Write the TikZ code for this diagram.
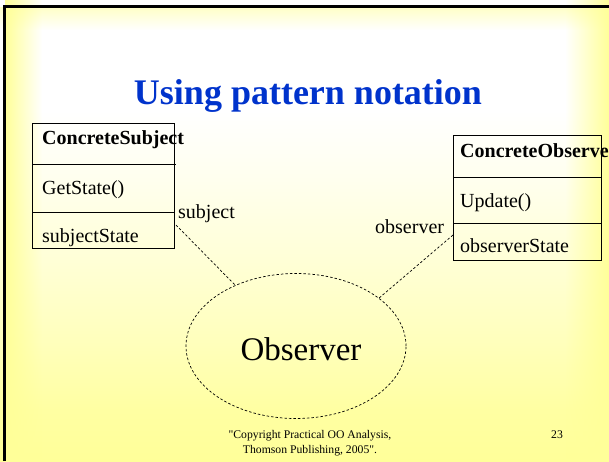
\documentclass[tikz,border=0pt]{standalone}
\usepackage{fontspec}
\setmainfont{Liberation Serif}[Ligatures=TeXOff]
\usetikzlibrary{shapes.geometric,fadings}
\definecolor{bgY}{RGB}{255,255,153}
\definecolor{bgA}{RGB}{255,255,162}
\definecolor{bgB}{RGB}{255,255,188}
\definecolor{bgC}{RGB}{255,255,215}
\definecolor{bgD}{RGB}{255,255,238}
\definecolor{titleblue}{RGB}{0,51,204}
\pgfdeclareverticalshading{bgshade}{100bp}{color(0bp)=(bgY); color(25bp)=(bgY); color(30.5bp)=(bgA); color(38bp)=(bgB); color(47bp)=(bgC); color(55.5bp)=(bgD); color(63bp)=(white); color(100bp)=(white)}
\tikzfading[name=fadeR, left color=transparent!0, right color=transparent!100]
\tikzfading[name=fadeL, left color=transparent!100, right color=transparent!0]
\tikzfading[name=fadeD, top color=transparent!0, bottom color=transparent!100]
\tikzset{
  boxtext/.style={font=\fontsize{20}{24}\selectfont, anchor=base west, inner sep=0pt},
  boxbold/.style={font=\fontsize{20}{24}\selectfont\bfseries, anchor=base west, inner sep=0pt},
  classbox/.style={draw, line width=0.9pt, anchor=north west, inner sep=0pt},
  divider/.style={line width=0.9pt},
  link/.style={draw, dash pattern=on 2.5pt off 2pt, line width=0.7pt},
  lbl/.style={font=\fontsize{20}{24}\selectfont, anchor=base west, inner sep=0pt},
  foot/.style={font=\fontsize{11.7}{15}\selectfont, anchor=base, inner sep=0pt},
}
\begin{document}
\begin{tikzpicture}[x=1pt,y=-1pt]
\useasboundingbox (0,0) rectangle (609,461);
\clip (0,0) rectangle (609,461);
% background
\fill[bgY] (0,0) rectangle (609,461);
\shade[shading=bgshade] (0,0) rectangle (609,461);
\fill[bgY, path fading=fadeR] (5,0) rectangle (42,461);
\fill[bgY, path fading=fadeL] (565,0) rectangle (609,461);
\fill[bgY, path fading=fadeD, fill opacity=0.55] (0,7) rectangle (609,30);
\draw[line width=2.7pt] (4.5,461) -- (4.5,6.5) -- (609,6.5);
% title
\node[font=\fontsize{36}{40}\selectfont\bfseries, text=titleblue, anchor=base, inner sep=0pt] (title) at (308,104) {Using pattern notation};
% left class box
\node[classbox, minimum width=142pt, minimum height=125pt] (cs) at (32,123) {};
\draw[divider] (cs.west |- 0,164) -- (176,164);
\draw[divider] (cs.west |- 0,212) -- (cs.east |- 0,212);
\node[boxbold] (csname) at (42,144) {ConcreteSubject};
\node[boxtext] (csop) at (42,194) {GetState()};
\node[boxtext] (csattr) at (42,242) {subjectState};
% right class box
\node[classbox, minimum width=148pt, minimum height=125pt] (co) at (453,135) {};
\draw[divider] (co.west |- 0,177) -- (co.east |- 0,177);
\draw[divider] (co.west |- 0,223) -- (co.east |- 0,223);
\node[boxbold] (coname) at (460,157) {ConcreteObserver};
\node[boxtext] (coop) at (460,207) {Update()};
\node[boxtext] (coattr) at (460,252) {observerState};
% pattern collaboration
\node[ellipse, link, minimum width=220pt, minimum height=145pt, inner sep=0pt] (obs) at (296,346) {};
\node[font=\fontsize{33}{36}\selectfont, anchor=base, inner sep=0pt] (obslabel) at (301,360) {Observer};
\coordinate (sjend) at (176,225);
\coordinate (obend) at (453,235);
\draw[link] (sjend) -- (obs.135);
\draw[link] (obend) -- (obs.30);
\node[lbl] (sjlbl) at (178,218) {subject};
\node[lbl] (oblbl) at (375,233) {observer};
% footer
\node[foot] (copy1) at (310,438) {"Copyright Practical OO Analysis,};
\node[foot] (copy2) at (310,453) {Thomson Publishing, 2005".};
\node[foot] (pagenum) at (557,438) {23};
\end{tikzpicture}
\end{document}
